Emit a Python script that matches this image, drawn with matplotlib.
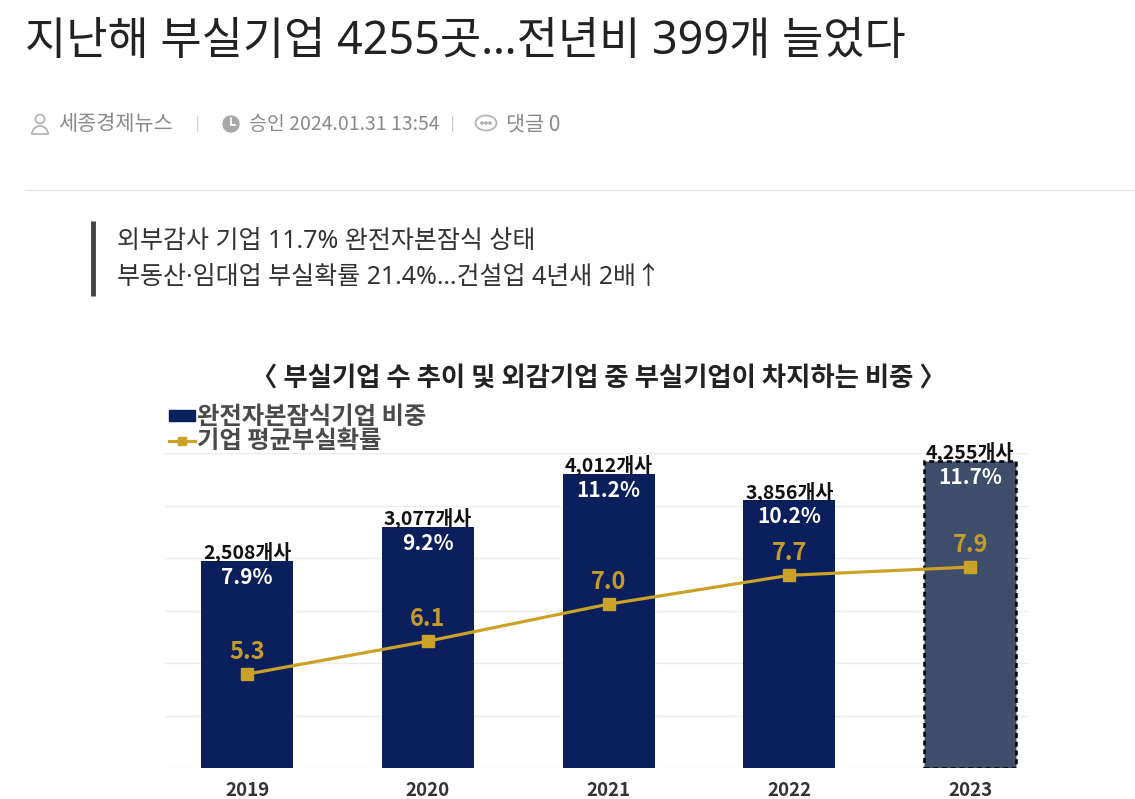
import matplotlib
matplotlib.use('Agg')
import matplotlib.pyplot as plt
from matplotlib.patches import Circle, Ellipse, Arc, Patch
from matplotlib.lines import Line2D

# Noto Sans primeiro (reticencias e ponto medio estreitos), coreano no CJK
plt.rcParams['font.family'] = ['Noto Sans', 'Noto Sans CJK KR', 'DejaVu Sans']
cjk = ['Noto Sans CJK KR', 'DejaVu Sans']   # Noto Sans sem negrito aqui

# dados do grafico
anos = ['2019', '2020', '2021', '2022', '2023']
empresas = ['2,508', '3,077', '4,012', '3,856', '4,255']
ratio = [7.9, 9.2, 11.2, 10.2, 11.7]   # 완전자본잠식기업 비중 (%)
prob = [5.3, 6.1, 7.0, 7.7, 7.9]       # 기업 평균부실확률

W, H = 1135, 799
fig = plt.figure(figsize=(W / 100, H / 100), dpi=100)

# camada da pagina em coordenadas de pixel
pg = fig.add_axes([0, 0, 1, 1])
pg.set_xlim(0, W)
pg.set_ylim(H, 0)
pg.axis('off')

pg.text(25, 42, '지난해 부실기업 4255곳…전년비 399개 늘었다', fontsize=32.3,
        color='#222222', va='center')

# linha de meta: icones + texto
cinza = '#8a8a8a'
pg.add_patch(Circle((40, 119), 4.5, fill=False, ec='#b5b5b5', lw=1.3))
pg.add_patch(Arc((40, 134), 16, 16, theta1=180, theta2=360, ec='#b5b5b5', lw=1.3))
pg.plot([32, 48], [134, 134], color='#b5b5b5', lw=1.3)
pg.text(58, 124, '세종경제뉴스', fontsize=15, color=cinza, va='center', family=cjk)
pg.text(198, 124, '|', fontsize=12, color='#d0d0d0', va='center', ha='center')
pg.add_patch(Circle((231, 124), 8, color='#a8a8a8'))
pg.plot([231, 231, 235], [118, 125, 125], color='white', lw=1.3)
pg.text(249, 124, '승인 2024.01.31 13:54', fontsize=14, color=cinza, va='center',
        family=cjk)
pg.text(453, 124, '|', fontsize=12, color='#d0d0d0', va='center', ha='center')
pg.add_patch(Ellipse((486, 123), 21, 15, fill=False, ec='#b5b5b5', lw=1.3))
for dx in (-4, 0, 4):
    pg.add_patch(Circle((486 + dx, 123), 1.2, color='#b5b5b5'))
pg.text(506, 124, '댓글 0', fontsize=15, color=cinza, va='center', family=cjk)

pg.plot([25, W], [190, 190], color='#e6e6e6', lw=1)

# resumo
pg.plot([93, 93], [221, 296], color='#444444', lw=3.5, solid_capstyle='butt')
pg.text(117, 241, '외부감사 기업 11.7% 완전자본잠식 상태', fontsize=18,
        color='#333333', va='center')
pg.text(117, 277, '부동산·임대업 부실확률 21.4%…건설업 4년새 2배↑', fontsize=18,
        color='#333333', va='center')

# titulo do grafico
pg.text(598, 378, '〈 부실기업 수 추이 및 외감기업 중 부실기업이 차지하는 비중 〉',
        fontsize=19, weight='bold', color='#222222', ha='center', va='center',
        family=cjk)

# grafico
azul = '#0b1f5c'
ouro = '#c9a227'
ax = fig.add_axes([165 / W, (H - 768) / H, (1028 - 165) / W, (768 - 453) / H])
x = list(range(len(anos)))
cores = [azul] * 4 + ['#3e4d69']
barras = ax.bar(x, ratio, width=0.51, color=cores, zorder=2)
barras[-1].set_edgecolor('black')
barras[-1].set_linestyle((0, (2, 1.5)))
barras[-1].set_linewidth(1.8)

ax.set_xlim(-0.454, 4.32)
ax.set_ylim(0, 12)
ax.set_yticks(range(0, 13, 2))
ax.grid(axis='y', color='#ececec', lw=1)
ax.set_axisbelow(True)
for s in ax.spines.values():
    s.set_visible(False)
ax.set_xticks(x, anos, fontsize=13.5, weight='bold', color='#333333', family=cjk)

for i in x:
    ax.annotate(empresas[i] + '개사', (i, ratio[i]), xytext=(0, 6),
                textcoords='offset points', ha='center', va='center',
                fontsize=14, weight='bold', color='#111111', family=cjk)
    ax.annotate(f'{ratio[i]}%', (i, ratio[i]), xytext=(0, -12),
                textcoords='offset points', ha='center', va='center',
                fontsize=15, weight='bold', color='white', family=cjk)

ax2 = ax.twinx()
ax2.plot(x, prob, color=ouro, lw=2.3, marker='s', ms=9, zorder=3)
ax2.set_ylim(3.02, 10.67)
ax2.axis('off')
for i in x:
    ax2.annotate(f'{prob[i]}', (i, prob[i]), xytext=(0, 16),
                 textcoords='offset points', ha='center', va='center',
                 fontsize=17, weight='bold', color='#c39b2c', family=cjk)

# twinx liga de novo os ticks da esquerda
ax.tick_params(left=False, labelleft=False, bottom=False, pad=6)

# legenda
alcas = [Patch(color=azul), Line2D([], [], color=ouro, lw=2.3, marker='s', ms=6)]
fig.legend(alcas, ['완전자본잠식기업 비중', '기업 평균부실확률'],
           loc='upper left', bbox_to_anchor=(169 / W, 1 - 405 / H), frameon=False,
           prop={'size': 17.5, 'weight': 'bold', 'family': cjk}, labelcolor='#4a4a4a',
           handlelength=1.05, handleheight=0.33, handletextpad=0.1, labelspacing=0.0,
           borderaxespad=0, borderpad=0)

fig.savefig('out.png', dpi=100)
